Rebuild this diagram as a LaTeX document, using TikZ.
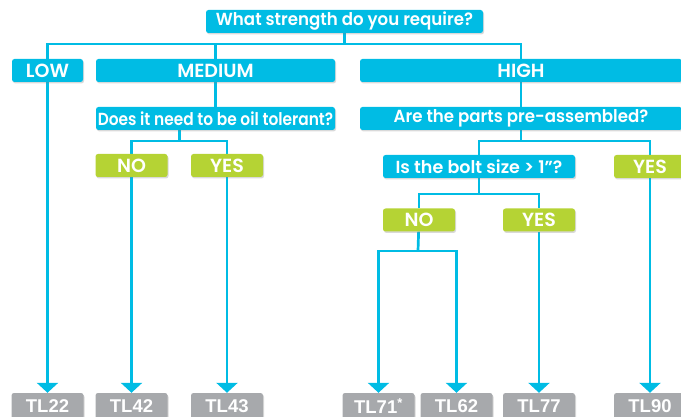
\documentclass[tikz,border=0pt]{standalone}
\usepackage{fontspec}
\setmainfont{Poppins}[BoldFont={Poppins SemiBold}]
\newfontfamily\tlfont{Liberation Sans}
\usetikzlibrary{arrows.meta,shadows,backgrounds}
\definecolor{tlblue}{RGB}{0,188,228}
\definecolor{tlgreen}{RGB}{181,211,52}
\definecolor{tlgrey}{RGB}{167,169,172}
\tikzset{
  box/.style={rounded corners=2.5pt, text=white, minimum height=23pt, inner sep=0pt,
    drop shadow={opacity=0.3, shadow xshift=1pt, shadow yshift=-1.5pt}},
  qbox/.style={box, fill=tlblue, font=\fontsize{17.5}{19}\selectfont\bfseries},
  cbox/.style={qbox, font=\fontsize{19}{21}\selectfont\bfseries},
  abox/.style={box, fill=tlgreen, minimum width=72pt, font=\fontsize{19}{21}\selectfont\bfseries},
  tlbox/.style={box, fill=tlgrey, minimum width=72pt, minimum height=26pt,
    font=\tlfont\fontsize{18.5}{20}\selectfont\bfseries},
  link/.style={tlblue, line width=2.7pt},
  down/.style={link, -{Triangle[width=21pt,length=10pt]}}
}

\begin{document}
\begin{tikzpicture}[x=1pt,y=-1pt]
    \useasboundingbox (0,0) rectangle (681,417);
    \clip (0,0) rectangle (681,417);
    % questions
    \node[qbox, minimum width=277pt] (strength) at (344.5,21.5) {\scalebox{0.95}[1]{What strength do you require?}};
    \node[cbox, minimum width=71pt] (low) at (47.5,70.5) {LOW};
    \node[cbox, minimum width=239pt] (medium) at (215.5,70.5) {MEDIUM};
    \node[cbox, minimum width=322pt] (high) at (521,70.5) {HIGH};
    \node[qbox, minimum width=239pt] (oil) at (215.5,118.5) {\scalebox{0.88}[1]{Does it need to be oil tolerant?}};
    \node[qbox, minimum width=322pt] (preass) at (521,118.5) {\scalebox{0.95}[1]{Are the parts pre-assembled?}};
    \node[qbox, minimum width=192pt] (bolt) at (479,166.5) {Is the bolt size > 1"?};
    % answers
    \node[abox] (oilno) at (131.5,165.5) {NO};
    \node[abox] (oilyes) at (227,165.5) {YES};
    \node[abox] (preyes) at (650,166.5) {YES};
    \node[abox] (boltno) at (419,220) {NO};
    \node[abox] (boltyes) at (539,220) {YES};
    % products
    \node[tlbox] (tl22) at (47.5,406) {TL22};
    \node[tlbox] (tl42) at (131.5,406) {TL42};
    \node[tlbox] (tl43) at (227,406) {TL43};
    \node[tlbox] (tl71) at (378.5,406) {TL71\textsuperscript{*}};
    \node[tlbox] (tl62) at (456.5,406) {TL62};
    \node[tlbox] (tl77) at (539,406) {TL77};
    \node[tlbox] (tl90) at (650,406) {TL90};
    % junctions
    \coordinate (j1) at (344.5,44);
    \coordinate (j2) at (179.25,141);
    \coordinate (j3) at (521,141);
    \coordinate (j4) at (479,194);
    \coordinate (j5) at (418,251);
    \begin{scope}[on background layer]
    \draw[link] (strength) -- (j1);
    \draw[link] (low.north) |- (j1) -| (high.north);
    \draw[link] (medium.north) -- (medium.north |- j1);
    \draw[link] (medium) -- (oil);
    \draw[link] (high) -- (preass);
    \draw[link] (j2 |- oil.south) -- (j2);
    \draw[link] (oilno.north) |- (j2) -| (oilyes.north);
    \draw[link] (preass) -- (j3);
    \draw[link] (bolt.north) |- (j3) -| (preyes.north);
    \draw[link] (bolt) -- (j4);
    \draw[link] (boltno.north) |- (j4) -| (boltyes.north);
    \draw[link] (boltno) -- (j5);
    \draw[down] (j5) -| (tl71.north);
    \draw[down] (j5) -| (tl62.north);
    \draw[down] (low) -- (tl22.north);
    \draw[down] (oilno) -- (tl42.north);
    \draw[down] (oilyes) -- (tl43.north);
    \draw[down] (boltyes) -- (tl77.north);
    \draw[down] (preyes) -- (tl90.north);
    \end{scope}
\end{tikzpicture}
\end{document}
